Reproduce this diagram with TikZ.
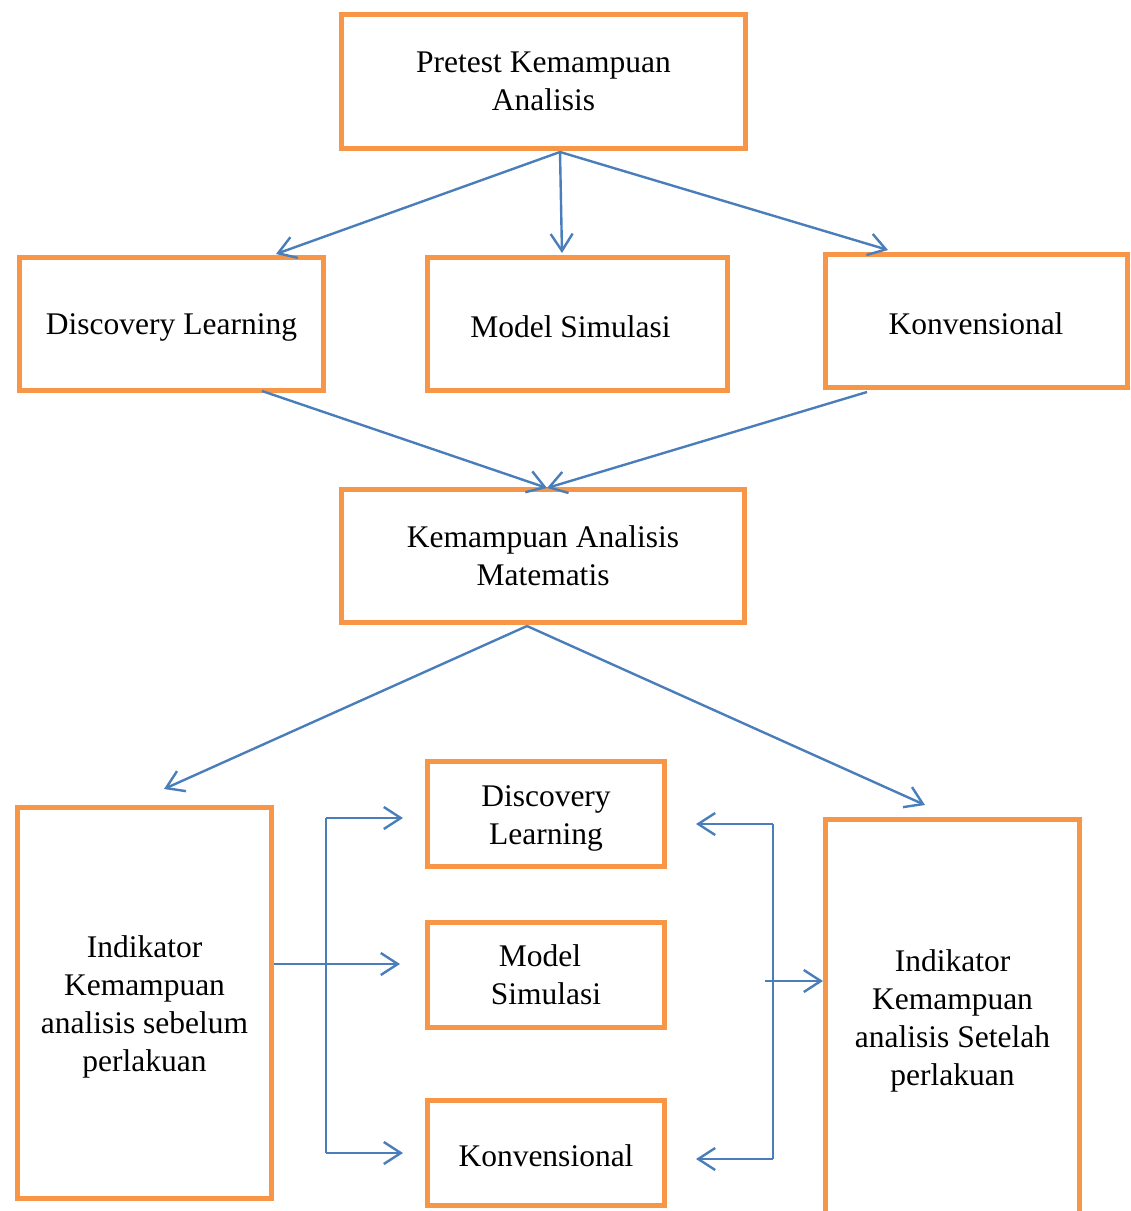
\documentclass[tikz,border=0pt]{standalone}
\usepackage{fontspec}
\setmainfont{Liberation Serif}
\usetikzlibrary{arrows.meta}
\definecolor{boxorange}{HTML}{F79646}
\definecolor{lineblue}{HTML}{4A7EBB}
\newcommand{\topstrut}{\rule{0pt}{30pt}}
\begin{document}
\begin{tikzpicture}[x=1pt,y=-1pt,
  box/.style={draw=boxorange,line width=5pt,inner sep=0pt,align=center,
    font=\fontsize{31.5}{38}\selectfont},
  onebox/.style={box,text height=28pt},
  conn/.style={draw=lineblue,line width=2.4pt,-{Straight Barb[length=17pt,width=22pt,line width=2.4pt]}},
  plain/.style={draw=lineblue,line width=2.4pt}]
\useasboundingbox (0,0) rectangle (1131,1211);
% boxes (centre, size along the stroke centre line)
\node[box,minimum width=404,minimum height=134] (pre) at (543.5,81.5) {Pretest Kemampuan\\Analisis};
\node[onebox,minimum width=304,minimum height=133] (dl) at (171.5,324) {Discovery Learning};
\node[onebox,minimum width=300,minimum height=133] (ms) at (577.5,324) {Model Simulasi\hspace*{14pt}};
\node[onebox,minimum width=302,minimum height=133] (kv) at (976,321) {Konvensional};
\node[box,minimum width=403,minimum height=133] (kam) at (543,556) {Kemampuan Analisis\\Matematis};
\node[box,minimum width=254,minimum height=391] (il) at (144.5,1003) {\topstrut Indikator\\Kemampuan\\analisis sebelum\\perlakuan};
\node[box,minimum width=237,minimum height=105] (dl2) at (546,814) {\topstrut Discovery\\Learning};
\node[box,minimum width=237,minimum height=105] (ms2) at (546,975) {Model\hspace*{12pt}\\Simulasi};
\node[onebox,minimum width=237,minimum height=105] (kv2) at (546,1152.5) {Konvensional};
\node[box,minimum width=254,minimum height=396] (ir) at (952.5,1017) {\topstrut Indikator\\Kemampuan\\analisis Setelah\\perlakuan};
% connector points
\coordinate (s1) at (560,152);
\coordinate (t1) at (276,254);
\coordinate (t2) at (562,253);
\coordinate (t3) at (888,250);
\coordinate (s4) at (262,391);
\coordinate (s5) at (867,392);
\coordinate (t45) at (547,488);
\coordinate (s6) at (527,626);
\coordinate (t6) at (164,789);
\coordinate (t7) at (925,805);
\coordinate (lb1) at (326,818);
\coordinate (lb2) at (326,1153);
\coordinate (lm) at (326,964);
\coordinate (rb1) at (773,824);
\coordinate (rb2) at (773,1159);
\coordinate (rm) at (765,981);
% top fan
\draw[conn] (s1) -- (t1);
\draw[conn] (s1) -- (t2);
\draw[conn] (s1) -- (t3);
% converge
\draw[conn] (s4) -- (t45);
\draw[conn] (s5) -- (t45);
% lower fan
\draw[conn] (s6) -- (t6);
\draw[conn] (s6) -- (t7);
% left bracket
\draw[plain] (lb1) -- (lb2);
\draw[conn] (lb1) -- ++(77,0);
\draw[conn] (lb2) -- ++(77,0);
\draw[conn] (il.east |- lm) -- ++(126,0);
% right bracket
\draw[plain] (rb1) -- (rb2);
\draw[conn] (rb1) -- ++(-77,0);
\draw[conn] (rb2) -- ++(-77,0);
\draw[conn] (rm) -- (ir.west |- rm);
\end{tikzpicture}
\end{document}
